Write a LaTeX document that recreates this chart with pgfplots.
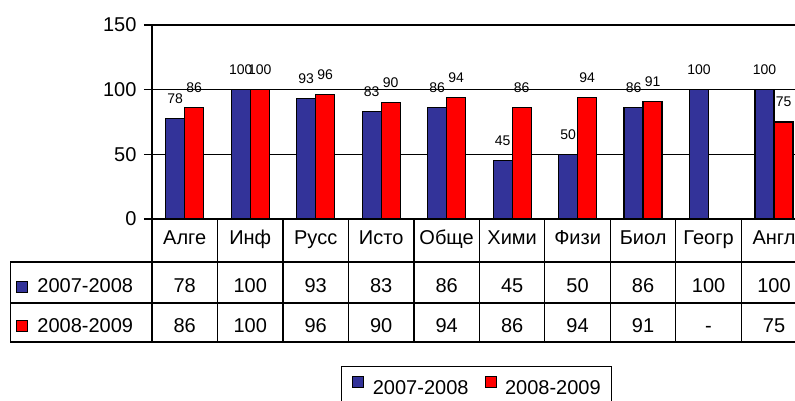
\documentclass[border=0pt]{standalone}
\usepackage{fontspec}
\setmainfont{Liberation Sans}
\usepackage{pgfplots}
\pgfplotsset{compat=1.18}
\definecolor{cblue}{HTML}{333399}
\definecolor{cred}{HTML}{FF0000}
\newcommand{\tabfont}{\fontsize{20}{24}\selectfont}
\newcommand{\lblfont}{\fontsize{14}{16}\selectfont}
\begin{document}
\begin{tikzpicture}
\begin{axis}[
  name=ax,
  scale only axis, width=643pt, height=194pt,
  xmin=-0.5, xmax=9.32, ymin=0, ymax=150,
  clip=false,
  axis x line*=bottom, axis y line*=left,
  axis line style={-, line width=1.2pt, black},
  ytick={0,50,100,150},
  ymajorgrids, major grid style={black, line width=1.2pt},
  tick align=outside, major tick length=8pt,
  ytick style={line width=1.2pt, black},
  xtick=\empty,
  yticklabel style={font=\tabfont, xshift=-4pt},
  /pgf/number format/assume math mode=true,
  legend columns=2,
  legend style={at={(0.5047,-0.7577)}, anchor=north, draw=black, line width=1pt,
    font=\tabfont, inner xsep=11pt, inner ysep=10pt,
    nodes={inner xsep=0pt, inner ysep=4pt},
    /tikz/every even column/.append style={column sep=16pt}},
]
\addplot[ybar, bar width=19pt, bar shift=-9.5pt, fill=cblue, draw=black, line width=1.2pt,
  nodes near coords,
  every node near coord/.append style={font=\lblfont, text=black, xshift=-9.5pt, yshift=11pt},
  legend image code/.code={\path[draw=none, fill=none] (0pt,0pt) -- (20pt,0pt); \draw[fill=cblue, draw=black, line width=1pt] (0pt,0.5pt) rectangle (11pt,11.5pt);}]
  coordinates {(0,78) (1,100) (2,93) (3,83) (4,86) (5,45) (6,50) (7,86) (8,100) (9,100)};
\addlegendentry{2007-2008}
\addplot[ybar, bar width=19pt, bar shift=9.5pt, fill=cred, draw=black, line width=1.2pt,
  nodes near coords,
  every node near coord/.append style={font=\lblfont, text=black, xshift=9.5pt, yshift=11pt},
  legend image code/.code={\path[draw=none, fill=none] (0pt,0pt) -- (20pt,0pt); \draw[fill=cred, draw=black, line width=1pt] (0pt,0.5pt) rectangle (11pt,11.5pt);}]
  coordinates {(0,86) (1,100) (2,96) (3,90) (4,94) (5,86) (6,94) (7,91) (9,75)};
\addlegendentry{2008-2009}
% category row
\addplot[draw=none, mark=none, forget plot, nodes near coords, point meta=explicit symbolic,
  every node near coord/.append style={anchor=base, font=\tabfont, text=black, inner sep=0pt}]
  table[meta=lab] {
x y lab
0 -19.6 Алге
1 -19.6 Инф
2 -19.6 Русс
3 -19.6 Исто
4 -19.6 Обще
5 -19.6 Хими
6 -19.6 Физи
7 -19.6 Биол
8 -19.6 Геогр
9 -19.6 Англ
};
% row 2007-2008
\addplot[draw=none, mark=none, forget plot, nodes near coords, point meta=explicit symbolic,
  every node near coord/.append style={anchor=base, font=\tabfont, text=black, inner sep=0pt}]
  table[meta=lab] {
x y lab
0 -57.2 78
1 -57.2 100
2 -57.2 93
3 -57.2 83
4 -57.2 86
5 -57.2 45
6 -57.2 50
7 -57.2 86
8 -57.2 100
9 -57.2 100
};
% row 2008-2009
\addplot[draw=none, mark=none, forget plot, nodes near coords, point meta=explicit symbolic,
  every node near coord/.append style={anchor=base, font=\tabfont, text=black, inner sep=0pt}]
  table[meta=lab] {
x y lab
0 -87.6 86
1 -87.6 100
2 -87.6 96
3 -87.6 90
4 -87.6 94
5 -87.6 86
6 -87.6 94
7 -87.6 91
8 -87.6 -
9 -87.6 75
};
% table lines
\draw[line width=1.2pt] (axis cs:-2.664,-33.2) -- (axis cs:9.32,-33.2);
\draw[line width=1.2pt] (axis cs:-2.664,-64.95) -- (axis cs:9.32,-64.95);
\draw[line width=1.2pt] (axis cs:-2.664,-95.1) -- (axis cs:9.32,-95.1);
\draw[line width=1.2pt] (axis cs:-2.664,-33.2) -- (axis cs:-2.664,-95.1);
\pgfplotsinvokeforeach{-0.5,0.5,1.5,2.5,3.5,4.5,5.5,6.5,7.5,8.5}{
  \draw[line width=1.2pt] (axis cs:#1,0) -- (axis cs:#1,-95.1);
}
% row keys
\node[draw=black, fill=cblue, line width=1pt, minimum size=11pt, inner sep=0pt, anchor=west] at (axis cs:-2.573,-52.2) {};
\node[anchor=base west, font=\tabfont, inner sep=0pt] at (axis cs:-2.252,-57.2) {2007-2008};
\node[draw=black, fill=cred, line width=1pt, minimum size=11pt, inner sep=0pt, anchor=west] at (axis cs:-2.573,-83.0) {};
\node[anchor=base west, font=\tabfont, inner sep=0pt] at (axis cs:-2.252,-87.6) {2008-2009};
\end{axis}
\pgfresetboundingbox
\path ([shift={(-152pt,-182pt)}]ax.south west) rectangle ([shift={(643pt,219pt)}]ax.south west);
\end{tikzpicture}
\end{document}
